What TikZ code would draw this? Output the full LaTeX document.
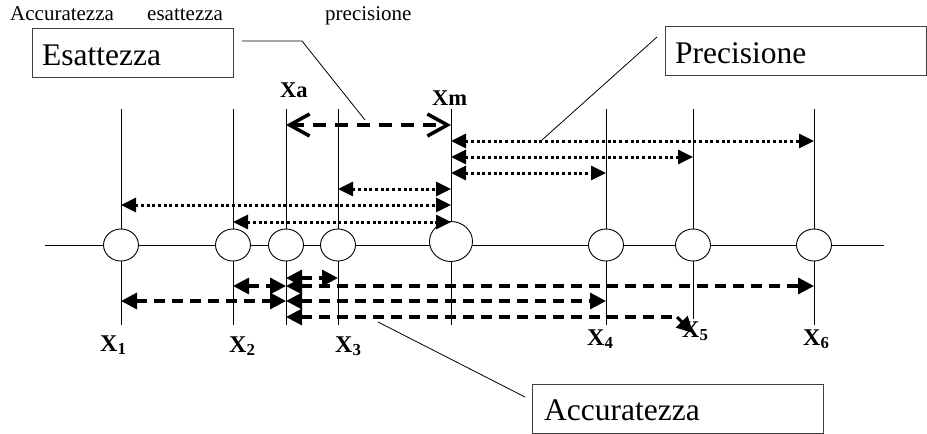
\documentclass[tikz,border=0pt]{standalone}
\usepackage{fontspec}
\setmainfont{Liberation Serif}
\usetikzlibrary{arrows.meta,shapes.geometric}
\begin{document}
\begin{tikzpicture}[x=1pt,y=-1pt,
  axisline/.style={line width=0.9pt},
  boxframe/.style={draw=black!75,line width=1pt,inner sep=0pt,anchor=north west},
  bubble/.style={ellipse,draw,fill=white,line width=0.9pt,minimum width=35pt,minimum height=32pt,inner sep=0pt},
  dotarr/.style={line width=3pt,dash pattern=on 3pt off 2.7pt,
    {Triangle[length=15pt,width=14pt]}-{Triangle[length=15pt,width=14pt]}},
  dashline/.style={line width=3.2pt,dash pattern=on 11pt off 7pt},
  dasharr/.style={dashline,{Triangle[length=16pt,width=16pt]}-{Triangle[length=16pt,width=16pt]}},
  gaparr/.style={line width=3.5pt,dash pattern=on 13pt off 9pt,
    {Straight Barb[length=20pt,width=22pt]}-{Straight Barb[length=20pt,width=22pt]}},
  leader/.style={line width=0.8pt},
  hdr/.style={font=\fontsize{21}{24}\selectfont,inner sep=0pt,anchor=base west},
  bigtxt/.style={font=\fontsize{31.5}{36}\selectfont,inner sep=0pt,anchor=base west},
  xlab/.style={font=\fontsize{24}{28}\selectfont\bfseries,inner sep=0pt,anchor=base west},
  mlab/.style={font=\fontsize{22.5}{26}\selectfont\bfseries,inner sep=0pt,anchor=base west},
]
\useasboundingbox (0,0) rectangle (927,434);

% header words
\node[hdr] (h1) at (10,20) {Accuratezza};
\node[hdr] (h2) at (147,20) {esattezza};
\node[hdr] (h3) at (325,20) {precisione};

% vertical reference lines
\foreach \n/\x in {1/121,2/233,a/286,3/338,m/451,4/606,6/814}{
  \coordinate (t\n) at (\x,109);
  \coordinate (b\n) at (\x,325);
}
\coordinate (t5) at (693,109);
\coordinate (b5) at (693,319);

% axis
\coordinate (axL) at (45,245);
\coordinate (axR) at (884,245);
\draw[axisline] (axL) -- (axR);
\foreach \n in {1,2,a,3,m,4,5,6} \draw[axisline] (t\n) -- (b\n);

% measurement points
\foreach \n in {1,2,a,3,4,5,6} \node[bubble] (c\n) at (t\n |- axL) {};
\node[bubble,minimum width=43pt,minimum height=40pt] (cm) at (451,241.5) {};

% row heights
\coordinate (g)  at (0,125);
\coordinate (r1) at (0,141);
\coordinate (r2) at (0,157);
\coordinate (r3) at (0,173);
\coordinate (r4) at (0,189);
\coordinate (r5) at (0,205);
\coordinate (r6) at (0,222);
\coordinate (d1) at (0,278);
\coordinate (d2) at (0,286);
\coordinate (d3) at (0,301);
\coordinate (d4) at (0,317);

% distance Xa - Xm
\draw[gaparr] (ta|-g) -- (tm|-g);

% spread around the mean
\draw[dotarr] (tm|-r1) -- (t6|-r1);
\draw[dotarr] (tm|-r2) -- (t5|-r2);
\draw[dotarr] (tm|-r3) -- (t4|-r3);
\draw[dotarr] (t3|-r4) -- (tm|-r4);
\draw[dotarr] (t1|-r5) -- (tm|-r5);
\draw[dotarr] (t2|-r6) -- (tm|-r6);

% deviations from the true value
\draw[dasharr] (ta|-d1) -- (t3|-d1);
\draw[dasharr] (t2|-d2) -- (ta|-d2);
\draw[dasharr] (ta|-d2) -- (t6|-d2);
\draw[dasharr] (t1|-d3) -- (ta|-d3);
\draw[dasharr] (ta|-d3) -- (t4|-d3);
\coordinate (k1) at (677,317);
\coordinate (k2) at (693,333);
\draw[dashline,{Triangle[length=16pt,width=16pt]}-] (ta|-d4) -- (k1);
\draw[line width=3pt,-{Triangle[length=16pt,width=16pt]}] (k1) -- (k2);

% point labels
\node[mlab] (la) at (280,97) {Xa};
\node[mlab] (lm) at (432,105) {Xm};
\node[xlab] (l1) at (100,351) {X\textsubscript{1}};
\node[xlab] (l2) at (229,352) {X\textsubscript{2}};
\node[xlab] (l3) at (335,352) {X\textsubscript{3}};
\node[xlab] (l4) at (587,345) {X\textsubscript{4}};
\node[xlab] (l5) at (682,337) {X\textsubscript{5}};
\node[xlab] (l6) at (803,345) {X\textsubscript{6}};

% callout boxes
\node[boxframe,minimum width=201pt,minimum height=49pt] (boxE) at (32,28) {};
\node[bigtxt] (tE) at (42,65) {Esattezza};
\node[boxframe,minimum width=261pt,minimum height=49pt] (boxP) at (665,26) {};
\node[bigtxt] (tP) at (675,63) {Precisione};
\node[boxframe,minimum width=291pt,minimum height=49pt] (boxA) at (532,384) {};
\node[bigtxt] (tA) at (544,420) {Accuratezza};

% leader lines
\coordinate (e0) at (242,41);
\coordinate (e1) at (302,41);
\coordinate (e2) at (365,120);
\draw[leader] (e0) -- (e1) -- (e2);
\coordinate (p0) at (657,37);
\coordinate (p1) at (542,140);
\draw[leader] (p0) -- (p1);
\coordinate (a0) at (525,397);
\coordinate (a1) at (378,322);
\draw[leader] (a0) -- (a1);
\end{tikzpicture}
\end{document}
